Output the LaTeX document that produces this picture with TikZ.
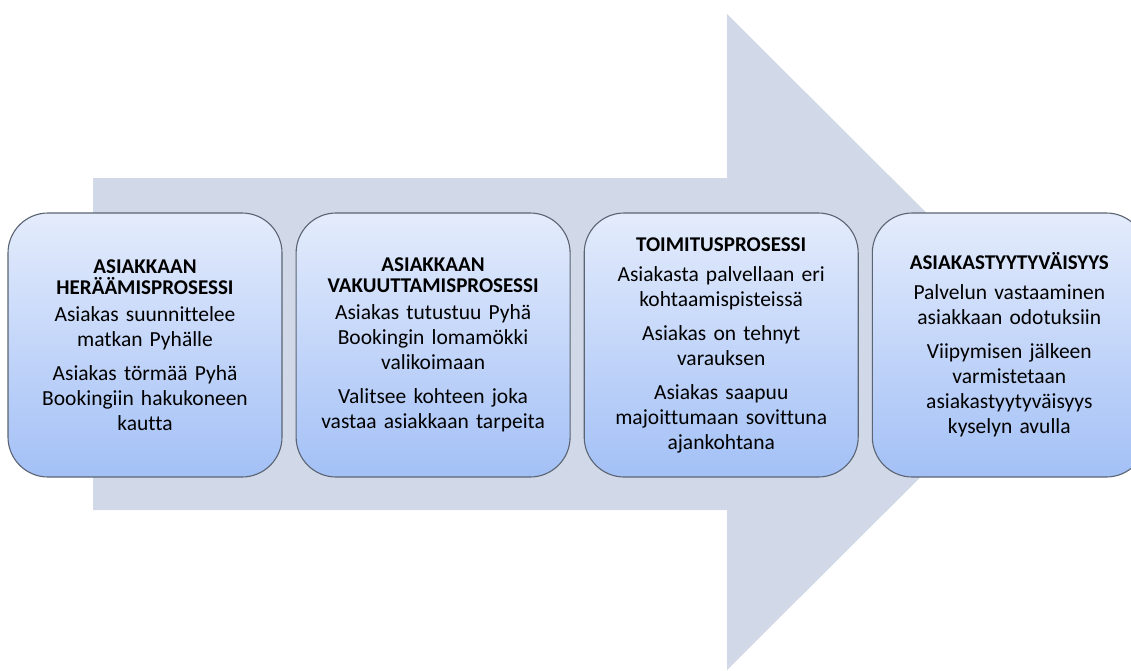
\documentclass[tikz,border=0pt]{standalone}
\usepackage{fontspec}
\setmainfont[Ligatures={NoCommon}]{Carlito}
\usetikzlibrary{positioning}
\definecolor{arrowfill}{HTML}{D1D8E7}
\definecolor{boxtop}{HTML}{E4ECFC}
\definecolor{boxbottom}{HTML}{A3C0F6}
\definecolor{boxline}{HTML}{5A6472}
\tikzset{ p/.style = { rectangle
                       , rounded corners = 40pt
                       , draw = boxline
                       , line width = 1.1pt
                       , top color = boxtop
                       , bottom color = boxbottom
                       , minimum width = 274pt
                       , minimum height = 264pt
                       , text width = 264pt
                       , inner sep = 5pt
                       , align = center
                       , font = \fontsize{21.5}{25}\selectfont
                       },
          bg/.style = { fill = arrowfill
                      , draw = none
                      }
        }

\begin{document}
\begin{tikzpicture}[x=1pt, y=-1pt]
    \clip (0,0) rectangle (1131,670);
    % big arrow behind the boxes
    \fill[bg] (93,178) -- (727,178) -- (727,14) -- (1056,342)
              -- (727,670) -- (727,510) -- (93,510) -- cycle;

    \node[p] (p1) at (145,345)
        {{\fontsize{21}{25}\selectfont\bfseries ASIAKKAAN}\\[-4pt]
         {\fontsize{21}{25}\selectfont\bfseries HERÄÄMISPROSESSI}\\[2pt]
         Asiakas suunnittelee\\matkan Pyhälle\\[9pt]
         Asiakas törmää Pyhä\\Bookingiin hakukoneen\\kautta};
    \node[p, right=13pt of p1] (p2)
        {{\fontsize{21}{25}\selectfont\bfseries ASIAKKAAN}\\[-4pt]
         {\fontsize{21}{25}\selectfont\bfseries VAKUUTTAMISPROSESSI}\\[2pt]
         Asiakas tutustuu Pyhä\\Bookingin lomamökki\\valikoimaan\\[9pt]
         Valitsee kohteen joka\\vastaa asiakkaan tarpeita};
    \node[p, right=13pt of p2] (p3)
        {{\fontsize{21}{25}\selectfont\bfseries TOIMITUSPROSESSI}\\[5pt]
         Asiakasta palvellaan eri\\kohtaamispisteissä\\[9pt]
         Asiakas on tehnyt\\varauksen\\[9pt]
         Asiakas saapuu\\majoittumaan sovittuna\\ajankohtana};
    \node[p, right=13pt of p3] (p4)
        {{\fontsize{21}{25}\selectfont\bfseries ASIAKASTYYTYVÄISYYS}\\[5pt]
         Palvelun vastaaminen\\asiakkaan odotuksiin\\[9pt]
         Viipymisen jälkeen\\varmistetaan\\asiakastyytyväisyys\\kyselyn avulla};
\end{tikzpicture}
\end{document}
